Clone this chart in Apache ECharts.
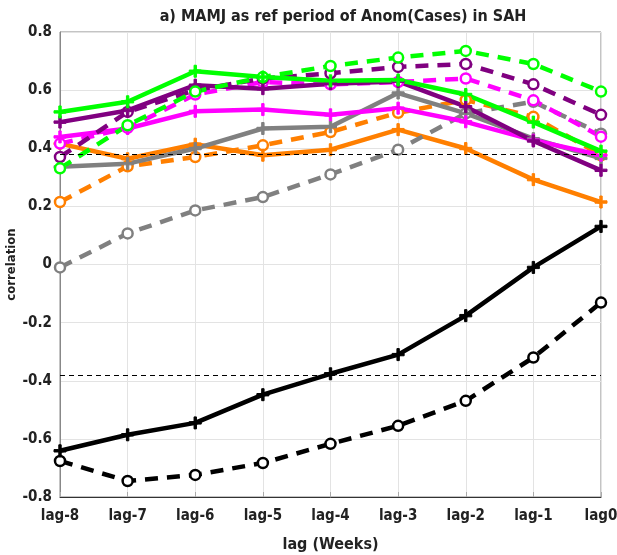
<!DOCTYPE html>
<html><head><meta charset="utf-8">
<script src="https://cdn.jsdelivr.net/npm/echarts@6/dist/echarts.min.js"></script>
<style>html,body{margin:0;padding:0;background:#fff}#c{width:617px;height:555px}</style>
</head><body><div id="c"></div>
<script>
const categories = ['lag-8','lag-7','lag-6','lag-5','lag-4','lag-3','lag-2','lag-1','lag0'];
const yTicks = [-0.8,-0.6,-0.4,-0.2,0,0.2,0.4,0.6,0.8];
const sigLevel = 0.38;

const greenSolid   = [0.525,0.56,0.665,0.645,0.632,0.635,0.585,0.49,0.39];
const greenDashed  = [0.331,0.479,0.595,0.645,0.683,0.712,0.735,0.69,0.595];
const purpleSolid  = [0.49,0.53,0.617,0.605,0.622,0.63,0.543,0.425,0.324];
const purpleDashed = [0.37,0.525,0.60,0.64,0.658,0.68,0.69,0.62,0.515];
const magentaSolid = [0.439,0.468,0.527,0.533,0.515,0.538,0.491,0.428,0.376];
const magentaDashed= [0.416,0.47,0.585,0.628,0.62,0.628,0.64,0.565,0.44];
const graySolid    = [0.336,0.347,0.399,0.468,0.474,0.59,0.52,0.433,0.365];
const grayDashed   = [-0.01,0.107,0.186,0.232,0.31,0.395,0.52,0.56,0.45];
const orangeSolid  = [0.416,0.364,0.414,0.376,0.395,0.464,0.399,0.292,0.215];
const orangeDashed = [0.215,0.338,0.37,0.41,0.456,0.522,0.566,0.508,0.376];
const blackSolid   = [-0.641,-0.586,-0.545,-0.448,-0.376,-0.31,-0.176,-0.01,0.131];
const blackDashed  = [-0.676,-0.745,-0.724,-0.683,-0.617,-0.555,-0.469,-0.32,-0.131];

const FONT = "'DejaVu Sans Condensed','Liberation Sans Narrow','DejaVu Sans',sans-serif";
const plusPath = 'path://M4,0H6V4H10V6H6V10H4V6H0V4H4Z';

function mk(name, data, color, dashed) {
  return {
    name, type: 'line', data,
    symbol: dashed ? 'circle' : plusPath,
    symbolSize: dashed ? 10 : 12,
    showAllSymbol: true,
    lineStyle: { color, width: 4.5, type: dashed ? [13, 9] : 'solid' },
    itemStyle: dashed ? { color: '#fff', borderColor: color, borderWidth: 2.5 } : { color, borderColor: color, borderWidth: 1 },
    emphasis: { disabled: true },
    animation: false, z: 3
  };
}

const series = [
  mk('orangeDashed', orangeDashed, '#ff7f00', true),
  mk('orangeSolid', orangeSolid, '#ff7f00', false),
  mk('grayDashed', grayDashed, '#808080', true),
  mk('graySolid', graySolid, '#808080', false),
  mk('magentaDashed', magentaDashed, '#ff00ff', true),
  mk('magentaSolid', magentaSolid, '#ff00ff', false),
  mk('purpleDashed', purpleDashed, '#800080', true),
  mk('purpleSolid', purpleSolid, '#800080', false),
  mk('greenDashed', greenDashed, '#00ff00', true),
  mk('greenSolid', greenSolid, '#00ff00', false),
  mk('blackDashed', blackDashed, '#000000', true),
  mk('blackSolid', blackSolid, '#000000', false)
];
series.push({
  type: 'line', data: [], silent: true,
  markLine: {
    symbol: 'none', silent: true, label: { show: false },
    lineStyle: { color: '#000', width: 1, type: [5, 4] },
    data: [{ yAxis: sigLevel }, { yAxis: -sigLevel }]
  }
});

const chart = echarts.init(document.getElementById('c'));
chart.setOption({
  animation: false,
  backgroundColor: '#fff',
  title: {
    text: 'a) MAMJ as ref period of Anom(Cases) in SAH',
    left: 338, top: 4, textAlign: 'center',
    textStyle: { fontFamily: FONT, fontWeight: 'bold', fontSize: 16, color: '#222' }
  },
  grid: { left: 60, right: 16, top: 32, bottom: 58, show: true, borderColor: '#888', borderWidth: 1, containLabel: false, outerBoundsMode: 'none' },
  xAxis: {
    type: 'category', data: categories, boundaryGap: false,
    name: 'lag (Weeks)', nameLocation: 'middle', nameGap: 40, nameMoveOverlap: false,
    nameTextStyle: { fontFamily: FONT, fontWeight: 'bold', fontSize: 16, color: '#222' },
    axisLine: { onZero: false, lineStyle: { color: '#333', width: 1 } },
    axisTick: { show: true, inside: true, length: 5, lineStyle: { color: '#aaa' } },
    axisLabel: { fontFamily: FONT, fontWeight: 'bold', fontSize: 15, color: '#222', margin: 12 },
    splitLine: { show: true, lineStyle: { color: '#e3e3e3', width: 1 } }
  },
  yAxis: {
    type: 'value', min: -0.8, max: 0.8, interval: 0.2,
    name: 'correlation', nameLocation: 'middle', nameGap: 42, nameMoveOverlap: false,
    nameTextStyle: { fontFamily: FONT, fontWeight: 'bold', fontSize: 13, color: '#222' },
    axisLine: { show: true, onZero: false, lineStyle: { color: '#888' } },
    axisTick: { show: false },
    axisLabel: {
      fontFamily: FONT, fontWeight: 'bold', fontSize: 15, color: '#222', margin: 8,
      formatter: v => { const r = Math.round(v * 10) / 10; const t = yTicks.find(x => Math.abs(x - r) < 1e-6); return String(t === undefined ? r : t); }
    },
    splitLine: { show: true, lineStyle: { color: '#e3e3e3', width: 1 } }
  },
  series
});
</script></body></html>
